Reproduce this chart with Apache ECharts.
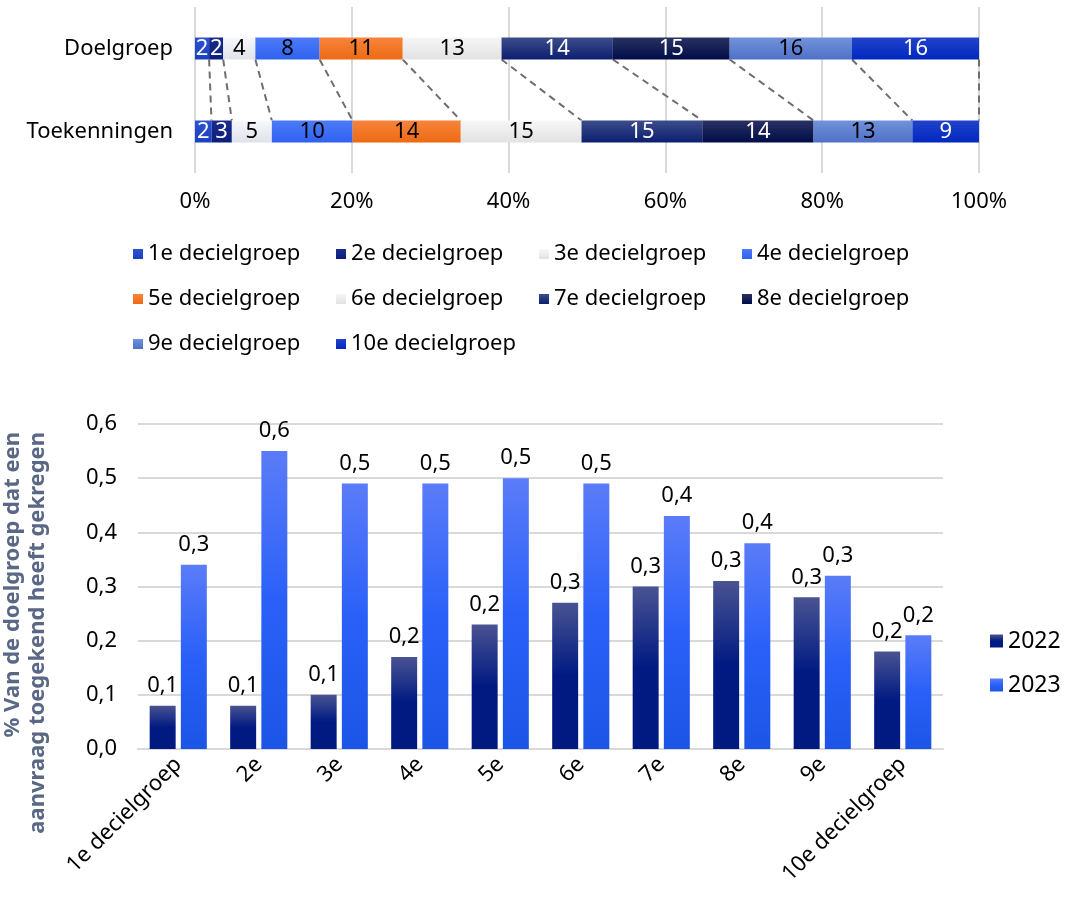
<!DOCTYPE html>
<html><head><meta charset="utf-8">
<script src="https://cdn.jsdelivr.net/npm/echarts@6/dist/echarts.min.js"></script>
<style>html,body{margin:0;padding:0;background:#fff}#c{width:1084px;height:899px}</style>
</head><body><div id="c"></div>
<script>
// ---- data ----
const groups = ['1e decielgroep','2e decielgroep','3e decielgroep','4e decielgroep','5e decielgroep','6e decielgroep','7e decielgroep','8e decielgroep','9e decielgroep','10e decielgroep'];
const rows = ['Doelgroep','Toekenningen'];
const doelgroep = [1.8, 1.8, 4.1, 8.2, 10.6, 12.6, 14.2, 14.9, 15.6, 16.2];
const toekenningen = [2.1, 2.6, 5.1, 10.3, 13.8, 15.4, 15.4, 14.2, 12.6, 8.5];
const barCats = ['1e decielgroep','2e','3e','4e','5e','6e','7e','8e','9e','10e decielgroep'];
const y2022 = [0.08, 0.08, 0.10, 0.17, 0.23, 0.27, 0.30, 0.31, 0.28, 0.18];
const y2023 = [0.34, 0.55, 0.49, 0.49, 0.50, 0.49, 0.43, 0.38, 0.32, 0.21];
const years = ['2022','2023'];

// ---- styles ----
const FONT = 'Noto Sans';
const FS = 22;
const segColors = [
  ['#2c52d2','#1a40c0'],['#1c2c8a','#0a1e80'],['#f7f8fb','#dfe2ea'],['#4d7af8','#2e62f0'],
  ['#f8843c','#ec6a12'],['#f6f6f6','#e2e2e2'],['#3c4c8a','#0c1f70'],['#2a3262','#000c48'],
  ['#7292da','#4f70c8'],['#2242ca','#0028c0']
];
const segLabel = ['#fff','#fff','#000','#000','#000','#000','#fff','#fff','#000','#fff'];
function grad(c){return new echarts.graphic.LinearGradient(0,0,0,1,[{offset:0,color:c[0]},{offset:1,color:c[1]}]);}
function grad3(a,b,c){return new echarts.graphic.LinearGradient(0,0,0,1,[{offset:0,color:a},{offset:0.5,color:b},{offset:1,color:c}]);}
const fmt = v => Number(v).toFixed(1).replace('.',',');

function cum(arr){let s=0;return arr.map(v=>(s+=v));}
const cumD = cum(doelgroep), cumT = cum(toekenningen);

const series = groups.map((g,i)=>({
  type:'bar', name:g, stack:'s', xAxisIndex:0, yAxisIndex:0, barWidth:22,
  data:[doelgroep[i], toekenningen[i]],
  itemStyle:{color:grad(segColors[i])},
  label:{show:true, position:'inside', formatter:p=>Math.round(p.value), color:segLabel[i], fontSize:FS, fontFamily:FONT},
  emphasis:{disabled:true}
}));
series.push({
  type:'custom', name:'conn', xAxisIndex:0, yAxisIndex:0, silent:true, z:1,
  encode:{x:[0,1]},
  data: cumD.map((d,i)=>[d, cumT[i]]),
  renderItem:(params, api)=>{
    const a = api.coord([api.value(0), 0]);
    const b = api.coord([api.value(1), 1]);
    return {type:'line', shape:{x1:a[0], y1:a[1]+11, x2:b[0], y2:b[1]-11},
      style:{stroke:'#6e6e6e', lineWidth:2, lineDash:[7,5]}};
  }
});
series.push({
  type:'bar', name:'2022', xAxisIndex:1, yAxisIndex:1, data:y2022,
  barGap:'20%', barCategoryGap:'29%',
  itemStyle:{color:grad3('#4a5392','#001a82','#001a82')},
  label:{show:true, position:'top', formatter:p=>fmt(p.value), color:'#000', fontSize:FS, fontFamily:FONT, distance:9}
});
series.push({
  type:'bar', name:'2023', xAxisIndex:1, yAxisIndex:1, data:y2023,
  barGap:'20%', barCategoryGap:'29%',
  itemStyle:{color:grad3('#5b7cf8','#2a60f8','#1b55e6')},
  label:{show:true, position:'top', formatter:p=>fmt(p.value), color:'#000', fontSize:FS, fontFamily:FONT, distance:9}
});

const chart = echarts.init(document.getElementById('c'), null, {renderer:'canvas'});
chart.setOption({
  animation:false,
  textStyle:{fontFamily:FONT},
  grid:[
    {left:195, right:105, top:7, height:166},
    {left:138, right:141, top:424, bottom:150}
  ],
  xAxis:[
    {type:'value', gridIndex:0, min:0, max:100, interval:20,
     axisLine:{show:false}, axisTick:{show:false},
     splitLine:{lineStyle:{color:'#d9d9d9', width:2}},
     axisLabel:{formatter:'{value}%', fontSize:FS, color:'#000', margin:18, fontFamily:FONT}},
    {type:'category', gridIndex:1, data:barCats,
     axisLine:{lineStyle:{color:'#d9d9d9', width:2}}, axisTick:{show:false},
     axisLabel:{rotate:45, interval:0, fontSize:FS, color:'#000', margin:12, fontFamily:FONT}}
  ],
  yAxis:[
    {type:'category', gridIndex:0, data:rows, inverse:true,
     axisLine:{show:false}, axisTick:{show:false},
     axisLabel:{fontSize:FS, color:'#000', margin:22, fontFamily:FONT}},
    {type:'value', gridIndex:1, min:0, max:0.6, interval:0.1,
     axisLine:{show:false}, axisTick:{show:false},
     splitLine:{lineStyle:{color:'#d9d9d9', width:2}},
     axisLabel:{formatter:v=>fmt(v), fontSize:FS, color:'#000', margin:21, fontFamily:FONT}}
  ],
  legend:[
    {data:groups, left:128, top:234, width:830, icon:'rect', itemWidth:10, itemHeight:10, itemGap:15,
     textStyle:{fontSize:FS, color:'#000', width:173, lineHeight:30, fontFamily:FONT}},
    {data:years, orient:'vertical', left:985, top:621, icon:'rect', itemWidth:13, itemHeight:13, itemGap:14,
     textStyle:{fontSize:23, color:'#000', lineHeight:30, fontFamily:FONT}}
  ],
  graphic:[
    {type:'text', x:25, y:432, rotation:Math.PI/2,
     style:{text:'% Van de doelgroep dat een\naanvraag toegekend heeft gekregen', fill:'#5a6886',
       font:'bold 22px "Noto Sans"', align:'right', verticalAlign:'middle', lineHeight:25}}
  ],
  series:series
});
</script></body></html>
